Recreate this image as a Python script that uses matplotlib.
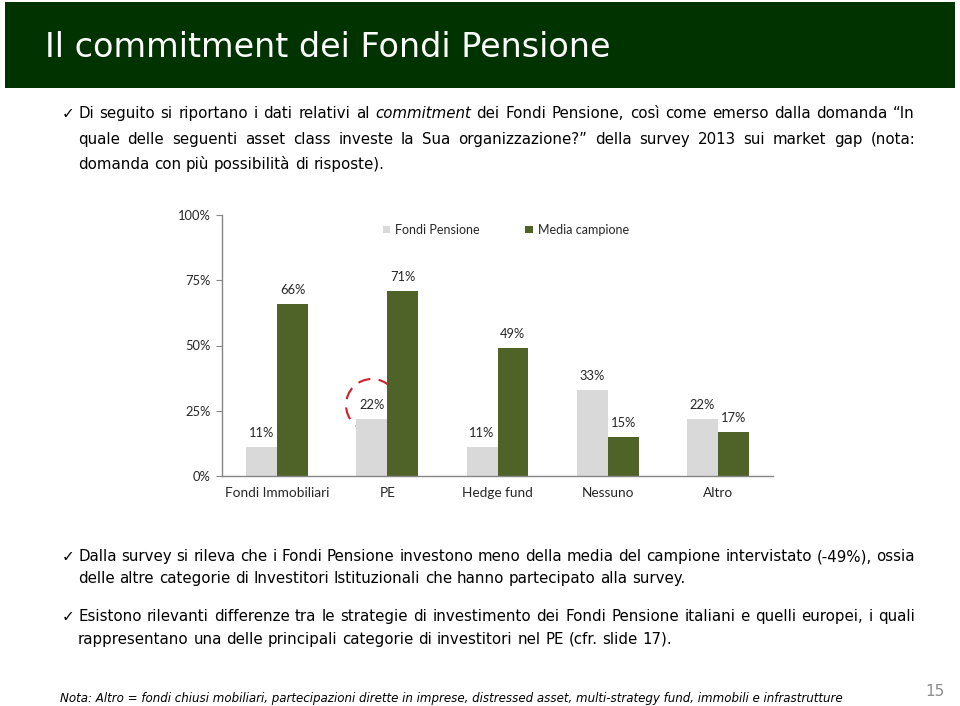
import matplotlib
matplotlib.use("Agg")
import matplotlib.pyplot as plt
from matplotlib.patches import Rectangle, Ellipse

W, H = 960, 706

categories = ["Fondi Immobiliari", "PE", "Hedge fund", "Nessuno", "Altro"]
fondi_pensione = [11, 22, 11, 33, 22]
media_campione = [66, 71, 49, 15, 17]
y_ticks = [0, 25, 50, 75, 100]
series_names = ["Fondi Pensione", "Media campione"]

title = "Il commitment dei Fondi Pensione"
para1 = ["Di seguito si riportano i dati relativi al commitment dei Fondi Pensione, così come emerso dalla domanda “In",
         "quale delle seguenti asset class investe la Sua organizzazione?” della survey 2013 sui market gap (nota:",
         "domanda con più possibilità di risposte)."]
para2 = ["Dalla survey si rileva che i Fondi Pensione investono meno della media del campione intervistato (-49%), ossia",
         "delle altre categorie di Investitori Istituzionali che hanno partecipato alla survey."]
para3 = ["Esistono rilevanti differenze tra le strategie di investimento dei Fondi Pensione italiani e quelli europei, i quali",
         "rappresentano una delle principali categorie di investitori nel PE (cfr. slide 17)."]
note = "Nota: Altro = fondi chiusi mobiliari, partecipazioni dirette in imprese, distressed asset, multi-strategy fund, immobili e infrastrutture"
italic_words = {"commitment"}

GRAY = "#d9d9d9"
GREEN = "#4f6228"
TXT = "#262626"
BODY = 10.8

fig = plt.figure(figsize=(W / 100, H / 100), dpi=100)
fig.patch.set_facecolor("white")

# title band
fig.patches.append(Rectangle((5 / W, 1 - 88 / H), 950 / W, 86 / H, transform=fig.transFigure,
                             facecolor="#003300", edgecolor="none", zorder=0))
fig.text(45 / W, 1 - 57 / H, title, color="white", fontsize=24, va="baseline", ha="left",
         family="DejaVu Sans")

renderer = fig.canvas.get_renderer()


def put_line(line, y, x0=78, x1=915, size=BODY, justify=True):
    # y is the baseline, in pixels from the top
    words = line.split(" ")
    texts = []
    for w in words:
        st = "italic" if w.strip(",.") in italic_words else "normal"
        texts.append(fig.text(0, 1 - y / H, w, fontsize=size, style=st, va="baseline", ha="left",
                              family="DejaVu Sans", color="black"))
    widths = [t.get_window_extent(renderer).width for t in texts]
    probe = fig.text(0, 0, "a a", fontsize=size, family="DejaVu Sans")
    probe2 = fig.text(0, 0, "aa", fontsize=size, family="DejaVu Sans")
    space = probe.get_window_extent(renderer).width - probe2.get_window_extent(renderer).width
    probe.remove()
    probe2.remove()
    gap = (x1 - x0 - sum(widths)) / (len(words) - 1) if justify else space
    x = x0
    for t, w in zip(texts, widths):
        t.set_x(x / W)
        x += w + gap


def put_para(lines, ys):
    fig.text(62 / W, 1 - ys[0] / H, "✓", fontsize=11, va="baseline", ha="left",
             family="DejaVu Sans", color="black")
    for i, (ln, y) in enumerate(zip(lines, ys)):
        put_line(ln, y, justify=(i < len(lines) - 1))


put_para(para1, [118, 144, 169])
put_para(para2, [561, 583])
put_para(para3, [621, 644])

fig.text(60 / W, 1 - 702 / H, note, fontsize=8.6, style="italic", va="baseline", ha="left",
         family="DejaVu Sans", color="black")
fig.text(935 / W, 1 - 692 / H, "15", fontsize=11, va="center", ha="center",
         family="DejaVu Sans", color="#8c8c8c")

# chart
ax = fig.add_axes([222 / W, 1 - 476 / H, 551 / W, 261 / H])
ax.set_facecolor("none")
x = range(len(categories))
bw = 0.28
b1 = ax.bar([i - bw / 2 for i in x], fondi_pensione, bw, color=GRAY, zorder=2, label=series_names[0])
b2 = ax.bar([i + bw / 2 for i in x], media_campione, bw, color=GREEN, zorder=2, label=series_names[1])
for bars, vals in ((b1, fondi_pensione), (b2, media_campione)):
    for r, v in zip(bars, vals):
        ax.annotate(f"{v}%", (r.get_x() + r.get_width() / 2, v), xytext=(0, 10),
                    textcoords="offset points", ha="center", va="center",
                    fontsize=9.3, family="Lato", color=TXT, zorder=3)

ax.set_xlim(-0.5, 4.5)
ax.set_ylim(0, 100)
ax.set_yticks(y_ticks)
ax.set_yticklabels([f"{v}%" for v in y_ticks], family="Lato", fontsize=9.3, color=TXT)
ax.set_xticks(list(x))
ax.set_xticklabels(categories, family="Lato", fontsize=9.8, color=TXT)
ax.tick_params(axis="x", length=0, pad=8)
ax.tick_params(axis="y", length=4, pad=4, color="#868686", direction="out")
for s in ("top", "right"):
    ax.spines[s].set_visible(False)
for s in ("left", "bottom"):
    ax.spines[s].set_color("#868686")
    ax.spines[s].set_linewidth(1)

ax.legend(loc="center", bbox_to_anchor=(0.515, 0.943), ncol=2, frameon=False,
          handlelength=0.6, handleheight=0.6, handletextpad=0.4, columnspacing=3.6,
          prop={"family": "Lato", "size": 9}, labelcolor=TXT)

# red dashed circle around the PE value
ax.add_patch(Ellipse(((372 - 222) / 551, (476 - 405) / 261), 52 / 551, 52 / 261,
                     transform=ax.transAxes, fill=False, edgecolor="#d0202a", lw=1.5,
                     linestyle=(0, (6, 4)), zorder=1, clip_on=False))

fig.savefig("out.png", dpi=100)
